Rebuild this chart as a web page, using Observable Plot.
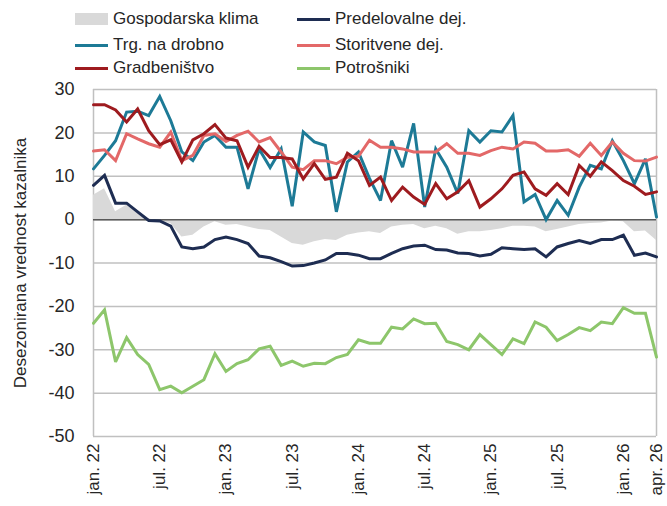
<!DOCTYPE html>
<html>
<head>
<meta charset="utf-8">
<script src="https://cdn.jsdelivr.net/npm/d3@7"></script>
<script src="https://cdn.jsdelivr.net/npm/@observablehq/plot@0.6"></script>
<style>
  html, body { margin: 0; padding: 0; background: #fff; }
  #wrap { width: 667px; height: 506px; position: relative; font-family: "Liberation Sans", Arial, sans-serif; color: #262626; }
  #legend { position: relative; height: 80px; font-size: 17px; }
  .item { position: absolute; display: flex; align-items: center; white-space: nowrap; }
  .sw-line { width: 33px; height: 3px; margin-right: 5px; }
  .sw-rect { width: 33px; height: 12px; margin-right: 5px; }
</style>
</head>
<body>
<div id="wrap">
  <div id="legend"></div>
  <div id="chart"></div>
</div>
<script>
// Monthly series, jan. 2022 – apr. 2026 (52 months)
const months = d3.range(52);
const tickIdx = [0, 6, 12, 18, 24, 30, 36, 42, 48, 51];
const tickLabels = ["jan. 22", "jul. 22", "jan. 23", "jul. 23", "jan. 24", "jul. 24", "jan. 25", "jul. 25", "jan. 26", "apr. 26"];
const yTicks = [-50, -40, -30, -20, -10, 0, 10, 20, 30];

const klima = [5.6, 7.1, 1.8, 3.3, 1.4, 0.2, -0.5, -0.9, -4.0, -3.6, -1.7, -0.5, -1.3, -1.1, -1.7, -2.3, -2.5, -4.0, -5.5, -5.9, -5.1, -4.6, -4.8, -3.6, -3.1, -2.8, -3.2, -1.7, -1.3, -1.1, -2.1, -1.5, -2.1, -3.4, -2.8, -2.8, -2.5, -2.1, -1.5, -1.5, -1.7, -2.8, -2.3, -1.7, -1.1, -0.9, -0.8, -0.3, -0.5, -2.8, -2.6, -4.8];
const predelovalne = [7.9, 10.2, 3.8, 3.8, 1.8, -0.2, -0.3, -1.5, -6.3, -6.7, -6.3, -4.6, -4.0, -4.6, -5.5, -8.4, -8.8, -9.7, -10.7, -10.6, -10.0, -9.3, -7.8, -7.8, -8.2, -9.0, -9.0, -7.8, -6.7, -6.1, -5.9, -6.9, -7.0, -7.7, -7.8, -8.4, -8.0, -6.5, -6.7, -6.9, -6.7, -8.6, -6.3, -5.5, -4.8, -5.5, -4.6, -4.6, -3.6, -8.2, -7.7, -8.6];
const trgovina = [11.7, 14.8, 18.2, 24.8, 25.0, 24.0, 28.4, 22.8, 15.6, 13.6, 17.9, 19.4, 16.7, 16.7, 7.1, 16.3, 12.0, 16.3, 3.1, 20.2, 17.9, 17.1, 1.8, 13.3, 15.6, 9.5, 4.4, 18.2, 12.1, 22.2, 2.9, 16.3, 12.1, 6.0, 20.5, 17.9, 20.5, 20.2, 24.0, 4.1, 5.8, 0.0, 4.4, 1.0, 7.5, 12.5, 11.7, 18.2, 13.6, 8.3, 14.0, 0.6];
const storitvene = [15.8, 16.1, 13.6, 19.8, 18.6, 17.5, 16.7, 20.2, 13.6, 14.8, 19.4, 19.8, 18.0, 19.4, 20.4, 17.9, 18.9, 15.6, 12.1, 11.5, 13.6, 13.6, 12.9, 14.4, 14.6, 18.3, 16.7, 16.7, 16.3, 15.6, 15.6, 15.6, 17.5, 15.3, 15.3, 14.8, 15.9, 16.7, 16.3, 17.9, 17.6, 15.8, 15.8, 16.1, 14.6, 17.6, 14.8, 17.9, 15.3, 13.6, 13.5, 14.4];
const gradbenistvo = [26.5, 26.5, 25.3, 22.5, 25.5, 20.5, 17.3, 18.4, 13.3, 18.4, 19.8, 21.9, 18.8, 18.2, 12.1, 16.9, 14.3, 14.3, 14.0, 9.4, 12.9, 9.3, 9.8, 15.3, 13.6, 7.9, 9.8, 4.4, 7.5, 5.2, 3.5, 8.3, 4.8, 6.4, 9.0, 2.9, 4.8, 7.1, 10.2, 11.0, 7.1, 5.6, 8.3, 5.8, 12.5, 10.0, 13.3, 11.3, 9.0, 7.7, 5.8, 6.4];
const potrosniki = [-23.9, -20.8, -32.8, -27.2, -31.1, -33.4, -39.2, -38.4, -39.9, -38.4, -36.9, -30.9, -35.0, -33.2, -32.3, -29.8, -29.2, -33.6, -32.6, -33.8, -33.1, -33.2, -31.8, -31.1, -27.7, -28.5, -28.5, -24.8, -25.2, -22.9, -24.0, -23.9, -28.1, -28.8, -30.0, -26.5, -28.8, -31.1, -27.5, -28.6, -23.6, -24.8, -27.9, -26.5, -24.9, -25.6, -23.6, -24.0, -20.3, -21.6, -21.6, -31.7];

const seriesNames = ["Gospodarska klima", "Predelovalne dej.", "Trg. na drobno", "Storitvene dej.", "Gradbeništvo", "Potrošniki"];
const seriesColors = ["#d9d9d9", "#1e2d52", "#1d7a96", "#e36868", "#9e1b1f", "#8dc66b"];
const yTitle = "Desezonirana vrednost kazalnika";

// Legend (HTML, above the SVG)
const legendPos = [[75, 19], [297, 19], [75, 45], [297, 45], [75, 68], [297, 68]];
const legend = document.getElementById("legend");
seriesNames.forEach((name, k) => {
  const it = document.createElement("div");
  it.className = "item";
  it.style.left = legendPos[k][0] + "px";
  it.style.top = (legendPos[k][1] - 11) + "px";
  it.style.height = "22px";
  const sw = document.createElement("span");
  sw.className = k === 0 ? "sw-rect" : "sw-line";
  sw.style.background = seriesColors[k];
  const tx = document.createElement("span");
  tx.textContent = name;
  it.appendChild(sw); it.appendChild(tx);
  legend.appendChild(it);
});

const lineSeries = [predelovalne, trgovina, storitvene, gradbenistvo, potrosniki];
const area = months.map(i => ({i, v: klima[i]}));

const chart = Plot.plot({
  width: 667,
  height: 426,
  marginTop: 9,
  marginBottom: 70,
  marginLeft: 93,
  marginRight: 11,
  style: { fontFamily: "'Liberation Sans', Arial, sans-serif", fontSize: "17px", color: "#262626", background: "#fff", overflow: "visible" },
  x: { domain: [0, 51] },
  y: { domain: [-50, 30] },
  marks: [
    Plot.ruleY(yTicks, { stroke: "#c0c0c0", strokeWidth: 1.5 }),
    Plot.ruleX([0, 51], { stroke: "#c0c0c0", strokeWidth: 1.5 }),
    Plot.areaY(area, { x: "i", y1: 0, y2: "v", fill: seriesColors[0] }),
    Plot.ruleY([0], { stroke: "#595959", strokeWidth: 1.5 }),
    ...lineSeries.map((s, k) => Plot.line(months, {
      x: d => d, y: d => s[d], stroke: seriesColors[k + 1], strokeWidth: 3, strokeLinejoin: "miter", strokeMiterlimit: 3
    })),
    Plot.axisY(yTicks, { tickSize: 0, tickPadding: 19, fontSize: 18, label: null, tickFormat: d => d.toString() }),
    Plot.axisX(tickIdx, { tickSize: 0, tickPadding: 7, tickRotate: -90, fontSize: 17, label: null,
      tickFormat: d => tickLabels[tickIdx.indexOf(d)] }),
    Plot.text([yTitle], { frameAnchor: "left", textAnchor: "middle", dx: -73, rotate: -90, fontSize: 17, fill: "#262626" })
  ]
});
document.getElementById("chart").appendChild(chart);
</script>
</body>
</html>
